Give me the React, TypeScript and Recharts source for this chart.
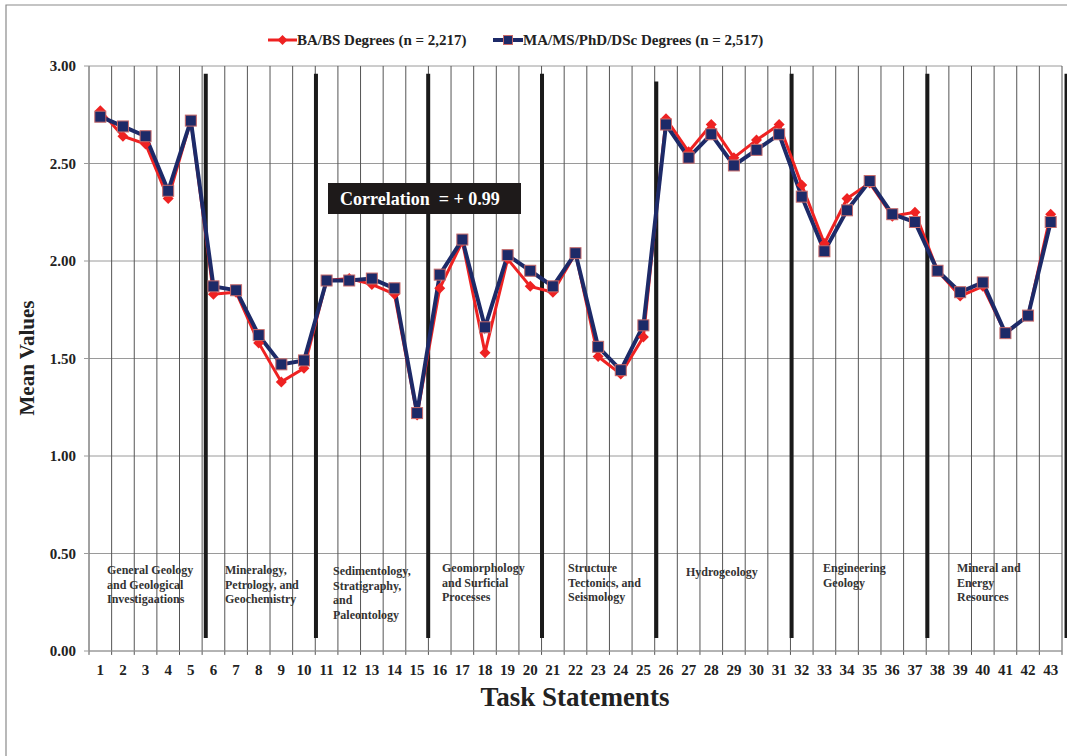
import React from "react";
import { CartesianGrid, Line, LineChart, ReferenceLine, XAxis, YAxis } from "recharts";

const tasks = [
  1, 2, 3, 4, 5, 6, 7, 8, 9, 10, 11, 12, 13, 14, 15, 16, 17, 18, 19, 20, 21, 22,
  23, 24, 25, 26, 27, 28, 29, 30, 31, 32, 33, 34, 35, 36, 37, 38, 39, 40, 41, 42, 43,
];

const baValues = [
  2.77, 2.64, 2.6, 2.32, 2.72, 1.83, 1.84, 1.58, 1.38, 1.45, 1.9, 1.91, 1.88, 1.83,
  1.21, 1.86, 2.1, 1.53, 2.01, 1.87, 1.84, 2.04, 1.51, 1.42, 1.61, 2.73, 2.56, 2.7,
  2.53, 2.62, 2.7, 2.39, 2.09, 2.32, 2.4, 2.23, 2.25, 1.95, 1.82, 1.87, 1.63, 1.72, 2.24,
];

const maValues = [
  2.74, 2.69, 2.64, 2.36, 2.72, 1.87, 1.85, 1.62, 1.47, 1.49, 1.9, 1.9, 1.91, 1.86,
  1.22, 1.93, 2.11, 1.66, 2.03, 1.95, 1.87, 2.04, 1.56, 1.44, 1.67, 2.7, 2.53, 2.65,
  2.49, 2.57, 2.65, 2.33, 2.05, 2.26, 2.41, 2.24, 2.2, 1.95, 1.84, 1.89, 1.63, 1.72, 2.2,
];

const yTicks = [0, 0.5, 1, 1.5, 2, 2.5, 3];

// thick section dividers, in task units
const dividers = [5.66, 10.53, 15.49, 20.52, 25.57, 31.55, 37.55, 43.7];

const sectionNames = [
  ["General Geology", "and Geological", "Investigaations"],
  ["Mineralogy,", "Petrology, and", "Geochemistry"],
  ["Sedimentology,", "Stratigraphy,", "and", "Paleontology"],
  ["Geomorphology", "and Surficial", "Processes"],
  ["Structure", "Tectonics, and", "Seismology"],
  ["Hydrogeology"],
  ["Engineering", "Geology"],
  ["Mineral and", "Energy", "Resources"],
];

const seriesNames = ["BA/BS Degrees (n = 2,217)", "MA/MS/PhD/DSc Degrees (n = 2,517)"];

const RED = "#ee2222";
const NAVY = "#1d2a68";
const FONT = "'Liberation Serif', 'Times New Roman', serif";

const chartData = tasks.map((task, i) => ({ task, ba: baValues[i], ma: maValues[i] }));
const boundaries = [tasks[0] - 0.5, ...tasks.map((t) => t + 0.5)];

const Diamond = (props: any) => {
  const { cx, cy, index } = props;
  if (cx == null || cy == null) return <g key={`d-${index}`} />;
  const r = 5.5;
  return (
    <polygon
      key={`d-${index}`}
      points={`${cx},${cy - r} ${cx + r},${cy} ${cx},${cy + r} ${cx - r},${cy}`}
      fill={RED}
    />
  );
};

const Square = (props: any) => {
  const { cx, cy, index } = props;
  if (cx == null || cy == null) return <g key={`s-${index}`} />;
  const s = 11;
  return (
    <rect
      key={`s-${index}`}
      x={cx - s / 2}
      y={cy - s / 2}
      width={s}
      height={s}
      fill={NAVY}
      stroke="#c86a6a"
      strokeWidth={1}
    />
  );
};

export default function App() {
  const sectionAnchors = [
    [107, 570],
    [225, 570],
    [333, 571],
    [442, 568],
    [568, 568],
    [686, 572],
    [823, 568],
    [957, 568],
  ];

  return (
    <div style={{ position: "absolute", left: 0, top: 0, width: 1067, height: 756, background: "#fff" }}>
      <LineChart
        width={1067}
        height={756}
        data={chartData}
        margin={{ top: 66, right: 5, bottom: 75, left: 0 }}
      >
        <CartesianGrid vertical={false} stroke="#9a9a9a" />
        {boundaries.map((b) => (
          <ReferenceLine
            key={`b-${b}`}
            segment={[
              { x: b, y: -0.02 },
              { x: b, y: 3 },
            ]}
            stroke="#555"
            strokeWidth={1}
            ifOverflow="visible"
          />
        ))}
        <XAxis
          type="number"
          dataKey="task"
          domain={[0.5, 43.5]}
          ticks={tasks}
          interval={0}
          axisLine={{ stroke: "#9a9a9a" }}
          tickLine={false}
          tickSize={0}
          tickMargin={13}
          height={30}
          tick={{ fill: "#222", fontSize: 15, fontWeight: 700, fontFamily: FONT }}
        />
        <YAxis
          domain={[0, 3]}
          ticks={yTicks}
          width={89}
          axisLine={{ stroke: "#9a9a9a" }}
          tickLine={{ stroke: "#9a9a9a" }}
          tickSize={5}
          tickMargin={8}
          tickFormatter={(v: number) => v.toFixed(2)}
          tick={{ fill: "#222", fontSize: 15, fontWeight: 700, fontFamily: FONT }}
        />
        {dividers.map((d, i) => (
          <ReferenceLine
            key={`div-${i}`}
            segment={[
              { x: d, y: 0.067 },
              { x: d, y: i === 4 ? 2.92 : 2.96 },
            ]}
            stroke="#1a1a1a"
            strokeWidth={4}
            ifOverflow="visible"
          />
        ))}
        <Line
          dataKey="ba"
          name={seriesNames[0]}
          stroke={RED}
          strokeWidth={3}
          dot={Diamond}
          activeDot={false}
          isAnimationActive={false}
        />
        <Line
          dataKey="ma"
          name={seriesNames[1]}
          stroke={NAVY}
          strokeWidth={4}
          dot={Square}
          activeDot={false}
          isAnimationActive={false}
        />
      </LineChart>

      <svg
        width={1067}
        height={756}
        style={{ position: "absolute", left: 0, top: 0, pointerEvents: "none" }}
        fontFamily={FONT}
        fontWeight={700}
      >
        <polyline points="6,760 6,5 1070,5" fill="none" stroke="#8a8a8a" strokeWidth={1.2} />

        {/* legend */}
        <line x1={268} y1={40} x2={297} y2={40} stroke={RED} strokeWidth={3} />
        <polygon points="282.5,35 287.5,40 282.5,45 277.5,40" fill={RED} />
        <text x={297} y={45} fontSize={15} fill="#222">
          {seriesNames[0]}
        </text>
        <line x1={493} y1={40} x2={523} y2={40} stroke={NAVY} strokeWidth={4} />
        <rect x={503.5} y={35.5} width={9} height={9} fill={NAVY} stroke="#c86a6a" />
        <text x={523} y={45} fontSize={15} fill="#222">
          {seriesNames[1]}
        </text>

        {/* correlation box */}
        <rect x={328} y={183} width={193} height={31} fill="#1e1a1a" />
        <text x={340} y={205} fontSize={18} fill="#fff" xmlSpace="preserve">
          Correlation  = + 0.99
        </text>

        {/* section names */}
        {sectionNames.map((lines, i) => (
          <text key={`sec-${i}`} fontSize={12} fill="#333">
            {lines.map((ln, j) => (
              <tspan key={j} x={sectionAnchors[i][0]} y={sectionAnchors[i][1] + 4 + j * 14.6}>
                {ln}
              </tspan>
            ))}
          </text>
        ))}

        {/* axis titles */}
        <text x={575} y={706} fontSize={27} fill="#222" textAnchor="middle">
          Task Statements
        </text>
        <text
          x={0}
          y={0}
          fontSize={21}
          fill="#222"
          textAnchor="middle"
          transform="translate(34,358) rotate(-90)"
        >
          Mean Values
        </text>
      </svg>
    </div>
  );
}
